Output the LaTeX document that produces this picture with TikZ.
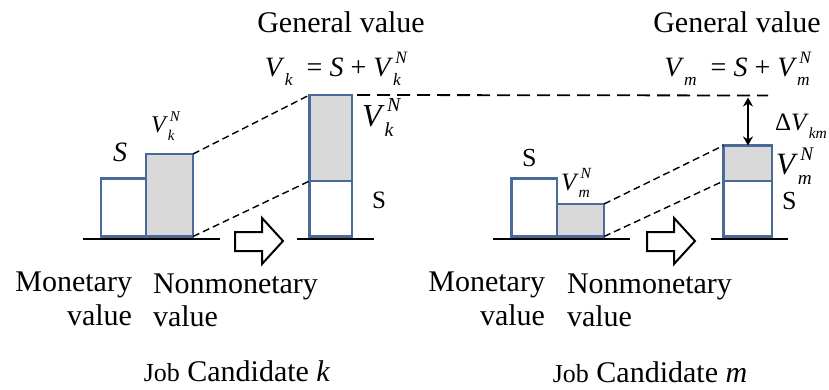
\documentclass[tikz,border=0pt]{standalone}
\usepackage{fontspec}
\setmainfont{Liberation Serif}
\usetikzlibrary{arrows.meta}
\definecolor{boxblue}{HTML}{4A6A9A}
\definecolor{boxgrey}{HTML}{D9D9D9}
\newcommand{\fs}[1]{\fontsize{#1}{#1}\selectfont}
\newsavebox{\supbx}\newsavebox{\subbx}
\newcommand{\subi}[1]{\raisebox{-0.3em}{\scalebox{0.62}{\textit{#1}}}}
\newcommand{\supsub}[2]{%
 \sbox{\subbx}{\subi{#1}}%
 \sbox{\supbx}{\kern0.08em\raisebox{0.48em}{\scalebox{0.62}{\textit{#2}}}}%
 \makebox[0pt][l]{\usebox{\supbx}}\usebox{\subbx}%
 \ifdim\wd\supbx>\wd\subbx\hspace{\dimexpr\wd\supbx-\wd\subbx\relax}\fi}
\begin{document}
\begin{tikzpicture}[x=1pt,y=-1pt,
  bar/.style={draw=boxblue, line width=2.4pt, inner sep=0pt, outer sep=0pt, anchor=south west},
  sbar/.style={bar, fill=white},
  nbar/.style={bar, fill=boxgrey},
  ground/.style={line width=2pt, black},
  guide/.style={dash pattern=on 7pt off 4pt, line width=1.4pt},
  topguide/.style={dash pattern=on 13pt off 7pt, line width=1.8pt},
  lbl/.style={inner sep=0pt, outer sep=0pt},
  bigarrow/.style={draw=black, line width=2pt, fill=white, line join=miter},
  dbl/.style={line width=1.8pt, {Stealth[length=9pt,width=10pt]}-{Stealth[length=9pt,width=10pt]}},
]
\useasboundingbox (0,0) rectangle (829,390);

% ground lines
\coordinate (g1a) at (83,239);  \coordinate (g1b) at (220,239);
\coordinate (g2a) at (297,239); \coordinate (g2b) at (374,239);
\coordinate (g3a) at (493,239); \coordinate (g3b) at (630,239);
\coordinate (g4a) at (711,239); \coordinate (g4b) at (788,239);
\draw[ground] (g1a) -- (g1b);
\draw[ground] (g2a) -- (g2b);
\draw[ground] (g3a) -- (g3b);
\draw[ground] (g4a) -- (g4b);

% candidate k bars
\node[sbar, minimum width=45pt, minimum height=58pt] (ms1) at (101,236.5) {};
\node[nbar, minimum width=47pt, minimum height=82.5pt] (nm1) at (146,236.5) {};
\node[sbar, minimum width=42.5pt, minimum height=55.5pt] (ts1) at (309.5,236.5) {};
\node[nbar, minimum width=42.5pt, minimum height=86pt] (tn1) at (309.5,181) {};

% candidate m bars
\node[sbar, minimum width=45.5pt, minimum height=58pt] (ms2) at (511.5,236.5) {};
\node[nbar, minimum width=47pt, minimum height=32.5pt] (nm2) at (557,236.5) {};
\node[sbar, minimum width=48.5pt, minimum height=55.5pt] (ts2) at (723.5,236.5) {};
\node[nbar, minimum width=48.5pt, minimum height=35.5pt] (tn2) at (723.5,181) {};

% dashed guides
\draw[guide] (nm1.north east) -- (tn1.north west);
\draw[guide] (nm1.south east) -- (ts1.north west);
\draw[guide] (nm2.north east) -- (tn2.north west);
\draw[guide] (nm2.south east) -- (ts2.north west);
\coordinate (tl) at (768,95.5);
\draw[topguide] ([xshift=5pt]tn1.north east) -- (tl);

% difference arrow
\coordinate (da) at (748,97.5);
\draw[dbl] (da) -- (da |- tn2.north);

% block arrows
\draw[bigarrow] (235,232) -- (262,232) -- (262,218) -- (283,241) -- (262,264) -- (262,251) -- (235,251) -- cycle;
\draw[bigarrow] (647,232) -- (674,232) -- (674,218) -- (695,241) -- (674,264) -- (674,251) -- (647,251) -- cycle;

% top labels
\node[lbl, anchor=base, font=\fs{30}] (gv1) at (341,33) {General value};
\node[lbl, anchor=base, font=\fs{30}] (gv2) at (737,33) {General value};
\node[lbl, anchor=base, font=\fs{28}] (eq1) at (333,77) {\textit{V}\subi{k}\ \ = \textit{S} + \textit{V}\supsub{k}{N}};
\node[lbl, anchor=base, font=\fs{28}] (eq2) at (737,77) {\textit{V}\subi{m}\ \ = \textit{S} + \textit{V}\supsub{m}{N}};

% candidate k labels
\node[lbl, anchor=base, font=\fs{28}\itshape] (sl1) at (120,162) {S};
\node[lbl, anchor=base west, font=\fs{24}] (vl1) at (151,133) {\textit{V}\supsub{k}{N}};
\node[lbl, anchor=base west, font=\fs{32}] (vr1) at (362,127) {\textit{V}\supsub{k}{N}};
\node[lbl, anchor=base west, font=\fs{25}] (sr1) at (372,208) {S};

% candidate m labels
\node[lbl, anchor=base west, font=\fs{26}] (sl2) at (522,167) {S};
\node[lbl, anchor=base west, font=\fs{25}] (vl2) at (561,190) {\textit{V}\supsub{m}{N}};
\node[lbl, anchor=base west, font=\fs{25}] (dv) at (775,131) {Δ\textit{V}\subi{km}};
\node[lbl, anchor=base west, font=\fs{31}] (vr2) at (776,175) {\textit{V}\supsub{m}{N}};
\node[lbl, anchor=base west, font=\fs{26}] (sr2) at (782,209) {S};

% bottom labels
\node[lbl, anchor=base east, font=\fs{30}] (mo1) at (132,291) {Monetary};
\node[lbl, anchor=base east, font=\fs{30}] (mv1) at (132,325) {value};
\node[lbl, anchor=base west, font=\fs{30}] (no1) at (153,293) {Nonmonetary};
\node[lbl, anchor=base west, font=\fs{30}] (nv1) at (153,326) {value};
\node[lbl, anchor=base east, font=\fs{30}] (mo2) at (545,291) {Monetary};
\node[lbl, anchor=base east, font=\fs{30}] (mv2) at (545,325) {value};
\node[lbl, anchor=base west, font=\fs{30}] (no2) at (567,293) {Nonmonetary};
\node[lbl, anchor=base west, font=\fs{30}] (nv2) at (567,326) {value};
\node[lbl, anchor=base, font=\fs{30}] (jc1) at (237,381) {{\fs{26}Job} Candidate \textit{k}};
\node[lbl, anchor=base, font=\fs{30}] (jc2) at (650,382) {{\fs{26}Job} Candidate \textit{m}};
\end{tikzpicture}
\end{document}
